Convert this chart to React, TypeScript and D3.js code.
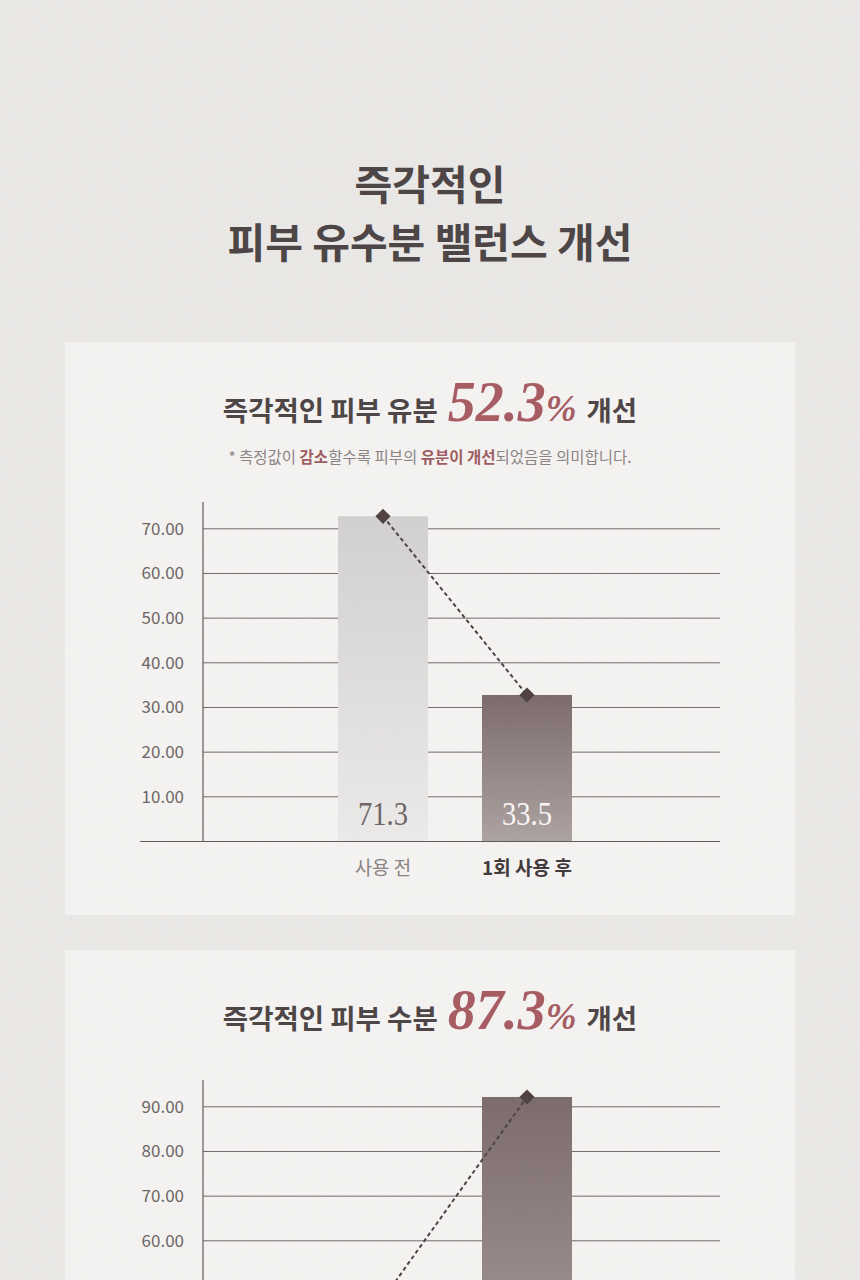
import React from 'react';
import * as d3 from 'd3';

const categories = ['사용 전', '1회 사용 후'];

// chart 1: oil
const oilValues = [72.8, 32.8];
const oilLabels = ['71.3', '33.5'];
const oilTicks = [10, 20, 30, 40, 50, 60, 70];

// chart 2: moisture (lower part is cut off by the page)
const moistureValues = [47, 92.2];
const moistureLabels = ['', ''];
const moistureTicks = [10, 20, 30, 40, 50, 60, 70, 80, 90];

const KR = '"Noto Sans CJK KR", "Noto Sans", sans-serif';
const SERIF = '"Liberation Serif", "DejaVu Serif", serif';
const PX_PER_UNIT = 4.467;
const PAGE_H = 1280;

interface ChartProps {
  id: string;
  panelTop: number;
  lead: string;
  pct: string;
  note: boolean;
  axisTop: number;
  yMax: number;
  values: number[];
  labels: string[];
  ticks: number[];
}

const BarChart: React.FC<ChartProps> = ({ id, panelTop, lead, pct, note, axisTop, yMax, values, labels, ticks }) => {
  const bottom = axisTop + yMax * PX_PER_UNIT;
  const y = d3.scaleLinear().domain([0, yMax]).range([bottom, axisTop]);
  const x = d3.scaleBand<string>()
    .domain(categories)
    .range([311, 599])
    .paddingInner(0.375)
    .paddingOuter(0.1875);
  const cx = (c: string) => (x(c) ?? 0) + x.bandwidth() / 2;

  const line = d3.line<number>()
    .x((_, i) => cx(categories[i]))
    .y(d => y(d));

  const diamond = d3.symbol().type(d3.symbolSquare).size(115)();
  // anything that would fall past the page edge is not drawn
  const shownTicks = ticks.filter(t => y(t) + 8 < PAGE_H);
  const showBottom = bottom + 40 < PAGE_H;

  return (
    <g>
      <rect x={65} y={panelTop} width={730} height={1400} fill="#f5f4f2" />
      <text x={430} y={panelTop + 79} textAnchor="middle" fontFamily={KR} fontWeight={700} fontSize={27.5} fill="#4a4243">
        {lead}
        <tspan dx={10} fontFamily={SERIF} fontStyle="italic" fontWeight={700} fontSize={56} fill="#a65a60">{pct}</tspan>
        <tspan fontFamily={SERIF} fontStyle="italic" fontWeight={700} fontSize={37} fill="#a65a60">%</tspan>
        <tspan dx={10}>개선</tspan>
      </text>
      {note && (
        <text x={430} y={panelTop + 121} textAnchor="middle" fontFamily={KR} fontSize={15.5} fill="#8a8282">
          {'* 측정값이 '}
          <tspan fontWeight={700} fill="#9c5a5e">감소</tspan>
          {'할수록 피부의 '}
          <tspan fontWeight={700} fill="#9c5a5e">유분이 개선</tspan>
          {'되었음을 의미합니다.'}
        </text>
      )}

      {/* grid */}
      {shownTicks.map(t => (
        <g key={t}>
          <line x1={203} x2={720} y1={y(t)} y2={y(t)} stroke="#6f6868" strokeWidth={1} />
          <text x={184} y={y(t) + 6} textAnchor="end" fontFamily={KR} fontSize={17} fill="#6b6363">{d3.format('.2f')(t)}</text>
        </g>
      ))}

      {/* bars */}
      {values.map((v, i) => (
        <rect key={i} x={x(categories[i])} y={y(v)} width={x.bandwidth()} height={bottom - y(v)}
          fill={`url(#${id}-g${i})`} />
      ))}

      {/* axes */}
      <line x1={203} x2={203} y1={axisTop} y2={bottom} stroke="#5f5858" strokeWidth={1.2} />
      <line x1={140} x2={720} y1={bottom} y2={bottom} stroke="#5f5858" strokeWidth={1.2} />

      {showBottom && labels.map((l, i) => (
        <text key={i} x={cx(categories[i])} y={bottom - 16} textAnchor="middle" fontFamily={SERIF} fontSize={34}
          textLength={50} lengthAdjust="spacingAndGlyphs"
          fill={i === 0 ? '#6a6464' : '#fbf8f8'}>{l}</text>
      ))}

      {showBottom && categories.map((c, i) => (
        <text key={c} x={cx(c)} y={bottom + 34} textAnchor="middle" fontFamily={KR} fontSize={19}
          fontWeight={i === 1 ? 700 : 400} fill={i === 1 ? '#3e3637' : '#8a8181'}>{c}</text>
      ))}

      {/* dashed line with diamonds */}
      <path d={line(values) ?? ''} fill="none" stroke="#4a4042" strokeWidth={2} strokeDasharray="4 3" />
      {values.map((v, i) => (
        <path key={i} d={diamond ?? ''} transform={`translate(${cx(categories[i])},${y(v)}) rotate(45)`} fill="#4d3f41" />
      ))}
    </g>
  );
};

export default function App() {
  return (
    <svg width={860} height={PAGE_H} style={{ position: 'absolute', left: 0, top: 0, display: 'block' }}>
      <defs>
        {['c1', 'c2'].map(id => (
          <React.Fragment key={id}>
            <linearGradient id={`${id}-g0`} x1="0" y1="0" x2="0" y2="1">
              <stop offset="0" stopColor="#d3d1d0" />
              <stop offset="1" stopColor="#ecebea" />
            </linearGradient>
            <linearGradient id={`${id}-g1`} x1="0" y1="0" x2="0" y2="1">
              <stop offset="0" stopColor="#7a6a69" />
              <stop offset="1" stopColor={id === 'c1' ? '#aca2a1' : '#b8afae'} />
            </linearGradient>
          </React.Fragment>
        ))}
        <filter id="paper" x="0" y="0" width="100%" height="100%">
          <feTurbulence type="fractalNoise" baseFrequency="0.9" numOctaves={2} seed={3} />
          <feColorMatrix type="matrix" values="0 0 0 0 0.5  0 0 0 0 0.48  0 0 0 0 0.46  0 0 0 0.06 0" />
        </filter>
      </defs>
      <rect width={860} height={PAGE_H} fill="#ebe9e7" />
      <text x={430} y={200} textAnchor="middle" fontFamily={KR} fontWeight={700} fontSize={41} fill="#4a4243">즉각적인</text>
      <text x={430} y={258} textAnchor="middle" fontFamily={KR} fontWeight={700} fontSize={41} fill="#4a4243">피부 유수분 밸런스 개선</text>

      <BarChart id="c1" panelTop={342} lead="즉각적인 피부 유분" pct="52.3" note={true}
        axisTop={502} yMax={76} values={oilValues} labels={oilLabels} ticks={oilTicks} />
      <rect x={0} y={915} width={860} height={35} fill="#ebe9e7" />
      <BarChart id="c2" panelTop={950} lead="즉각적인 피부 수분" pct="87.3" note={false}
        axisTop={1080} yMax={96} values={moistureValues} labels={moistureLabels} ticks={moistureTicks} />
      <rect width={860} height={PAGE_H} filter="url(#paper)" pointerEvents="none" />
    </svg>
  );
}
